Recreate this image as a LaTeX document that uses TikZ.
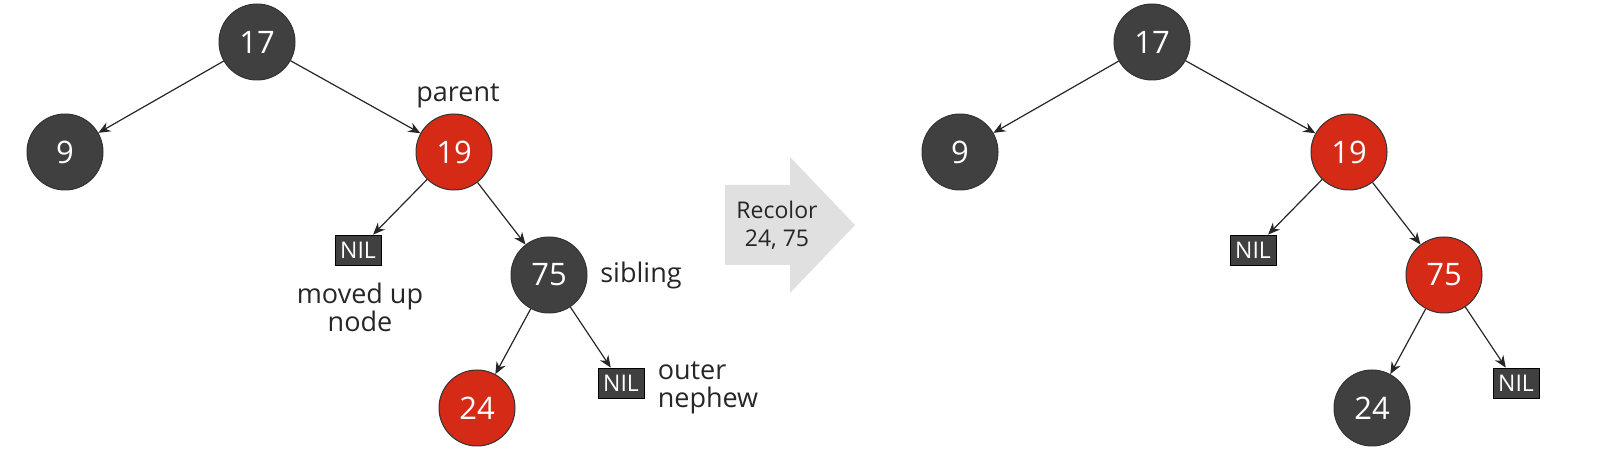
\documentclass[tikz,border=0pt]{standalone}
\usepackage{fontspec}
\setmainfont{Open Sans}
\usetikzlibrary{arrows.meta}
\definecolor{dk}{HTML}{404040}
\definecolor{rd}{HTML}{D42A16}
\definecolor{ar}{HTML}{E0E0E0}
\begin{document}
\begin{tikzpicture}[x=0.5pt,y=-0.5pt,
 n/.style={circle,draw=black!80,line width=0.5pt,minimum size=38pt,inner sep=0pt,text=white,font=\fontsize{15.5}{17}\selectfont},
 b/.style={n,fill=dk}, r/.style={n,fill=rd},
 nil/.style={rectangle,fill=dk,draw=black,text=white,minimum width=23pt,minimum height=15pt,inner sep=1pt,font=\fontsize{11.5}{12}\selectfont},
 lb/.style={font=\fontsize{13.5}{15}\selectfont,text=black!85,align=center},
 e/.style={draw=black!85,line width=0.6pt,-{Stealth[length=6pt,width=5pt]}}]
\useasboundingbox (0,0) rectangle (1600,458);
% left tree
\node[b] (a17) at (257,42) {17};
\node[b] (a9) at (65,152) {9};
\node[r] (a19) at (454,152) {19};
\node[nil] (anl) at (358,250) {NIL};
\node[b] (a75) at (549,275) {75};
\node[r] (a24) at (477,408) {24};
\node[nil] (anr) at (621,383) {NIL};
\draw[e] (a17)--(a9); \draw[e] (a17)--(a19);
\draw[e] (a19)--(anl); \draw[e] (a19)--(a75);
\draw[e] (a75)--(a24); \draw[e] (a75)--(anr);
\node[lb] (lp) at (458,96) {parent};
\node[lb] (lm) at (360,307) {moved up\\[-1pt]node};
\node[lb] (ls) at (641,275) {sibling};
\node[lb,align=left] (lo) at (708,388) {outer\\[-1pt]nephew};
% arrow
\fill[ar] (725,185) -- (790,185) -- (790,157) -- (855,225) -- (790,293) -- (790,265) -- (725,265) -- cycle;
\node[lb,font=\fontsize{11.5}{14}\selectfont] (rc) at (777,225) {Recolor\\24, 75};
% right tree
\node[b] (b17) at (1152,42) {17};
\node[b] (b9) at (960,152) {9};
\node[r] (b19) at (1349,152) {19};
\node[nil] (bnl) at (1253,250) {NIL};
\node[r] (b75) at (1444,275) {75};
\node[b] (b24) at (1372,408) {24};
\node[nil] (bnr) at (1516,383) {NIL};
\draw[e] (b17)--(b9); \draw[e] (b17)--(b19);
\draw[e] (b19)--(bnl); \draw[e] (b19)--(b75);
\draw[e] (b75)--(b24); \draw[e] (b75)--(bnr);
\end{tikzpicture}
\end{document}
